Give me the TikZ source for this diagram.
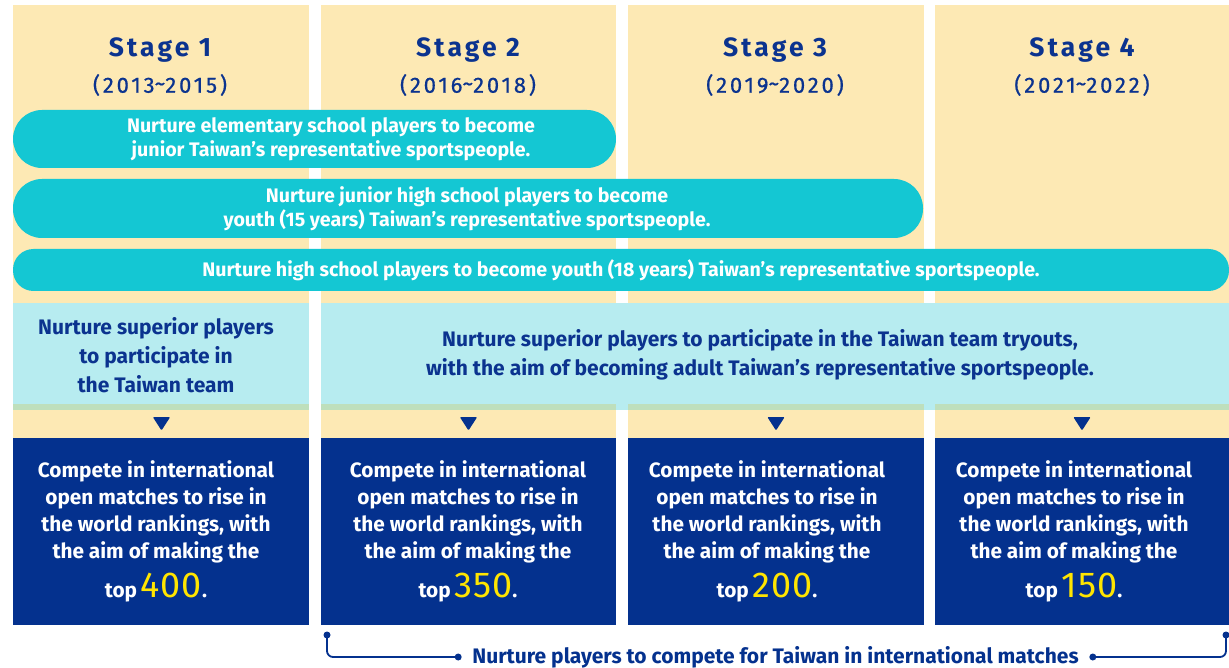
\documentclass[tikz,border=0pt]{standalone}
\usepackage{fontspec}
\setmainfont{Fira Sans}
\newfontfamily\stagefont{Fira Sans}[LetterSpace=12]
\newfontfamily\yearfont{Fira Sans}[LetterSpace=13,FakeBold=0.6]
\newfontfamily\numfont{Fira Sans}[LetterSpace=3]
\definecolor{yellowbg}{HTML}{FDE9B4}
\definecolor{turq}{HTML}{14C7D3}
\definecolor{lightblue}{HTML}{B7ECF0}
\definecolor{greenstrip}{HTML}{BEDFBC}
\definecolor{darkblue}{HTML}{04318E}
\definecolor{titleblue}{HTML}{0B338F}
\definecolor{numyellow}{HTML}{FFE500}
\begin{document}
\begin{tikzpicture}[x=1pt,y=-1pt,
  txt/.style={inner sep=0pt, align=center, font=\bfseries},
  stagetxt/.style={inner sep=0pt, text=titleblue, font=\stagefont\bfseries\fontsize{26.5}{30}\selectfont},
  yeartxt/.style={inner sep=0pt, text=titleblue, font=\yearfont\fontsize{22}{26}\selectfont},
  pilltxt/.style={txt, text=white, font=\bfseries\fontsize{19.6}{23.5}\selectfont},
  bandtxt/.style={txt, text=titleblue, font=\bfseries\fontsize{21}{29}\selectfont},
  boxtxt/.style={txt, text=white, font=\bfseries\fontsize{20.8}{27}\selectfont},
  pill/.style={fill=turq, inner sep=0pt},
  tri/.style={fill=darkblue, rounded corners=1pt},
  bracket/.style={draw=darkblue, line width=1.8pt, rounded corners=6pt},
  dot/.style={circle, fill=darkblue, inner sep=0pt, minimum size=7pt}
]
\useasboundingbox (0,0) rectangle (1229,668);
\fill[white] (0,0) rectangle (1229,668);
% columns
\foreach \l/\r in {13/309,321/616,628/924,935/1229}{
  \fill[yellowbg] (\l,5) rectangle (\r,438);
}
% pills
\fill[pill, rounded corners=29pt] (13,110) rectangle (616,168);
\fill[pill, rounded corners=29pt] (13,179) rectangle (923,238);
\fill[pill, rounded corners=20.5pt] (13,249) rectangle (1229,291);
% light blue bands
\fill[lightblue] (13,303) rectangle (309,404);
\fill[lightblue] (321,303) rectangle (1229,410);
\foreach \l/\r in {13/309,321/616,628/924,935/1229}{
  \fill[greenstrip] (\l,404) rectangle (\r,410);
  \fill[darkblue] (\l,438) rectangle (\r,625);
}
% triangles
\foreach \c in {161.5,468.5,776,1082}{
  \fill[tri] (\c-8.7,417) -- (\c+8.7,417) -- (\c,430.5) -- cycle;
}
% stage headings
\node[stagetxt] (s1) at (160,50.5) {Stage 1};
\node[stagetxt] (s2) at (468,50.5) {Stage 2};
\node[stagetxt] (s3) at (775,50.5) {Stage 3};
\node[stagetxt] (s4) at (1082,50.5) {Stage 4};
\node[yeartxt] (y1) at (160,85) {(2013\raisebox{0.15ex}{\~{}}2015)};
\node[yeartxt] (y2) at (468,85) {(2016\raisebox{0.15ex}{\~{}}2018)};
\node[yeartxt] (y3) at (775,85) {(2019\raisebox{0.15ex}{\~{}}2020)};
\node[yeartxt] (y4) at (1082,85) {(2021\raisebox{0.15ex}{\~{}}2022)};
% pill texts
\node[pilltxt] (t1) at (331,139) {Nurture elementary school players to become\\junior Taiwan’s representative sportspeople.};
\node[pilltxt] (t2) at (467,208.5) {Nurture junior high school players to become\\youth (15 years) Taiwan’s representative sportspeople.};
\node[pilltxt] (t3) at (621,270) {Nurture high school players to become youth (18 years) Taiwan’s representative sportspeople.};
% band texts
\node[bandtxt] (b1) at (156,355) {Nurture superior players\\to participate in\\the Taiwan team};
\node[bandtxt] (b2) at (760,355) {Nurture superior players to participate in the Taiwan team tryouts,\\with the aim of becoming adult Taiwan’s representative sportspeople.};
% box texts
\foreach \n/\c/\v in {1/156/400,2/468/350,3/767/200,4/1074/150}{
  \node[boxtxt] (c\n) at (\c,511.5) {Compete in international\\open matches to rise in\\the world rankings, with\\the aim of making the};
  \node[boxtxt] (k\n) at (\c,588) {top\,{\numfont\mdseries\fontsize{36}{38}\selectfont\color{numyellow}\v}.};
}
% bracket
\node[txt, text=darkblue, font=\bfseries\fontsize{21}{24}\selectfont] (bt) at (775.5,657) {Nurture players to compete for Taiwan in international matches};
\coordinate (bl) at (327,635);
\coordinate (br) at (1226,635);
\coordinate (blend) at ([xshift=-14pt]bt.west);
\coordinate (brend) at ([xshift=14pt]bt.east);
\draw[bracket] (bl) |- (blend);
\draw[bracket] (br) |- (brend);
\node[dot] at (bl) {};
\node[dot] at (br) {};
\node[dot] at (blend) {};
\node[dot] at (brend) {};
\end{tikzpicture}
\end{document}
